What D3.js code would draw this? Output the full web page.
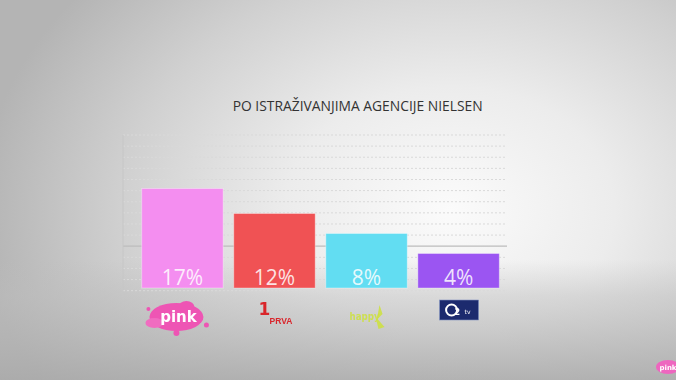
<!DOCTYPE html>
<html>
<head>
<meta charset="utf-8">
<script src="https://cdn.jsdelivr.net/npm/d3@7"></script>
<style>
html,body{margin:0;padding:0;background:#cfcfcf;}
svg{display:block;}
</style>
</head>
<body>
<svg id="chart" width="676" height="380"></svg>
<script>
const title = "PO ISTRAŽIVANJIMA AGENCIJE NIELSEN";
const categories = ["Pink", "Prva", "Happy", "O2"];
const values = [17, 12, 8, 4];
const labels = ["17%", "12%", "8%", "4%"];
const colors = ["#f48ef0", "#f05254", "#62ddf2", "#9b55f2"];
const gridCount = 14;

const W = 676, H = 380;
const svg = d3.select("#chart");
const defs = svg.append("defs");

// background
const rg = defs.append("radialGradient").attr("id", "bg")
  .attr("gradientUnits", "userSpaceOnUse")
  .attr("cx", 450).attr("cy", 210).attr("r", 470)
  .attr("gradientTransform", "translate(450,210) scale(1,0.75) translate(-450,-210)");
rg.append("stop").attr("offset", 0).attr("stop-color", "#fbfbfb");
rg.append("stop").attr("offset", 0.35).attr("stop-color", "#ececec");
rg.append("stop").attr("offset", 0.7).attr("stop-color", "#d0d0d0");
rg.append("stop").attr("offset", 1).attr("stop-color", "#b4b4b4");
svg.append("rect").attr("width", W).attr("height", H).attr("fill", "url(#bg)");

const floor = defs.append("linearGradient").attr("id", "floor")
  .attr("x1", 0).attr("y1", 0).attr("x2", 0).attr("y2", 1);
floor.append("stop").attr("offset", 0).attr("stop-color", "#bdbdbd").attr("stop-opacity", 0);
floor.append("stop").attr("offset", 0.3).attr("stop-color", "#bdbdbd").attr("stop-opacity", 0.45);
floor.append("stop").attr("offset", 1).attr("stop-color", "#aaaaaa").attr("stop-opacity", 0.85);
svg.append("rect").attr("x", 0).attr("y", 260).attr("width", W).attr("height", 120).attr("fill", "url(#floor)");

// scales
const x = d3.scaleBand().domain(categories).range([136.4, 504.6])
  .paddingInner(0.115).paddingOuter(0.0575);
const y = d3.scaleLinear().domain([-2.9, 27.7]).range([288, 135]);
const g = d3.scaleLinear().domain([0, gridCount]).range([290.7, 135]);

// gridlines
const grid = svg.append("g");
grid.selectAll("line").data(d3.range(0, gridCount + 1)).join("line")
  .attr("x1", 123).attr("x2", 507)
  .attr("y1", d => g(d)).attr("y2", d => g(d))
  .attr("stroke", d => d === 4 ? "#bcbcbc" : "#d9d9d9")
  .attr("stroke-width", d => d === 4 ? 1.2 : 1)
  .attr("stroke-dasharray", d => d === 4 ? null : "2,2");
grid.append("line").attr("x1", 123).attr("x2", 123)
  .attr("y1", g(gridCount)).attr("y2", 297)
  .attr("stroke", "#c6c6c6").attr("stroke-width", 1);

// title
svg.append("text").attr("x", 357.7).attr("y", 111)
  .attr("text-anchor", "middle")
  .attr("font-family", "'Open Sans', sans-serif")
  .attr("font-size", 14)
  .attr("fill", "#333333")
  .attr("textLength", 250).attr("lengthAdjust", "spacingAndGlyphs")
  .text(title);

// bars
const data = categories.map((c, i) => ({c, v: values[i], l: labels[i], col: colors[i]}));
svg.append("g").selectAll("rect").data(data).join("rect")
  .attr("x", d => x(d.c)).attr("width", x.bandwidth())
  .attr("y", d => y(d.v)).attr("height", d => y(y.domain()[0]) - y(d.v))
  .attr("fill", d => d.col)
  .attr("stroke", "rgba(255,255,255,0.35)").attr("stroke-width", 1);

svg.append("g").selectAll("text").data(data).join("text")
  .attr("x", d => x(d.c) + x.bandwidth() / 2).attr("y", 285)
  .attr("text-anchor", "middle")
  .attr("font-family", "'Open Sans', sans-serif")
  .attr("font-size", 21)
  .attr("fill", "#ffffff").attr("fill-opacity", 0.85)
  .text(d => d.l);

// logos
const blur = defs.append("filter").attr("id", "blur").attr("x", "-20%").attr("y", "-20%").attr("width", "140%").attr("height", "140%");
blur.append("feGaussianBlur").attr("stdDeviation", 0.6);
const logos = svg.append("g").attr("filter", "url(#blur)");
const cx = c => x(c) + x.bandwidth() / 2;

// Pink
const pk = logos.append("g").attr("transform", `translate(${cx("Pink") - 6},317)`);
pk.append("ellipse").attr("rx", 27).attr("ry", 14).attr("fill", "#ee55b4");
pk.append("ellipse").attr("cx", 10).attr("cy", -10).attr("rx", 8).attr("ry", 6).attr("fill", "#ee55b4");
pk.append("ellipse").attr("cx", -22).attr("cy", 6).attr("rx", 9).attr("ry", 5).attr("fill", "#f06cc0");
pk.append("circle").attr("cx", -28).attr("cy", -8).attr("r", 2).attr("fill", "#ee55b4");
pk.append("circle").attr("cx", 30).attr("cy", 8).attr("r", 2.5).attr("fill", "#ee55b4");
pk.append("circle").attr("cx", 0).attr("cy", 16).attr("r", 3).attr("fill", "#ee55b4");
pk.append("text").attr("x", 2).attr("y", 5).attr("text-anchor", "middle")
  .attr("font-family", "'DejaVu Sans', sans-serif").attr("font-weight", "bold")
  .attr("font-size", 15).attr("fill", "#fff").text("pink");

// Prva
const pr = logos.append("g").attr("transform", `translate(${cx("Prva") - 10},302)`);
pr.append("text").attr("x", 0).attr("y", 13).attr("text-anchor", "middle")
  .attr("font-family", "'DejaVu Sans', sans-serif").attr("font-weight", "bold")
  .attr("font-size", 17).attr("fill", "#d9262c").text("1");
pr.append("text").attr("x", 5).attr("y", 22).attr("text-anchor", "start")
  .attr("font-family", "'Liberation Sans', sans-serif").attr("font-weight", "bold")
  .attr("font-size", 8.5).attr("fill", "#d9262c").text("PRVA");

// Happy
const hp = logos.append("g").attr("transform", `translate(${cx("Happy") + 2},317)`);
hp.append("text").attr("x", -4).attr("y", 3).attr("text-anchor", "middle")
  .attr("font-family", "'DejaVu Sans', sans-serif").attr("font-weight", "bold")
  .attr("font-size", 10).attr("fill", "#cde044").attr("fill-opacity", 0.9)
  .attr("textLength", 30).attr("lengthAdjust", "spacingAndGlyphs").text("happy");
hp.append("path").attr("d", "M11,-12 L14,-3 L9,2 L16,10 L10,12 L8,4 Z")
  .attr("fill", "#cde044").attr("fill-opacity", 0.9);

// O2
const o2 = logos.append("g").attr("transform", `translate(${cx("O2") - 19},300)`);
o2.append("rect").attr("width", 39).attr("height", 20).attr("fill", "#1e2b6e")
  .attr("stroke", "#8090c0").attr("stroke-width", 0.6);
o2.append("circle").attr("cx", 12).attr("cy", 10).attr("r", 5.5)
  .attr("fill", "none").attr("stroke", "#fff").attr("stroke-width", 2);
o2.append("text").attr("x", 15).attr("y", 15).attr("font-family", "'DejaVu Sans', sans-serif")
  .attr("font-weight", "bold").attr("font-size", 8).attr("fill", "#fff").text("2");
o2.append("text").attr("x", 25).attr("y", 14).attr("font-family", "'DejaVu Sans', sans-serif")
  .attr("font-size", 6).attr("fill", "#fff").text("tv");

// corner logo
const cl = logos.append("g").attr("transform", "translate(668,367)");
cl.append("ellipse").attr("rx", 12).attr("ry", 7).attr("fill", "#ee66bf");
cl.append("text").attr("x", 0).attr("y", 3).attr("text-anchor", "middle")
  .attr("font-family", "'DejaVu Sans', sans-serif").attr("font-weight", "bold")
  .attr("font-size", 7).attr("fill", "#fff").text("pink");
</script>
</body>
</html>
